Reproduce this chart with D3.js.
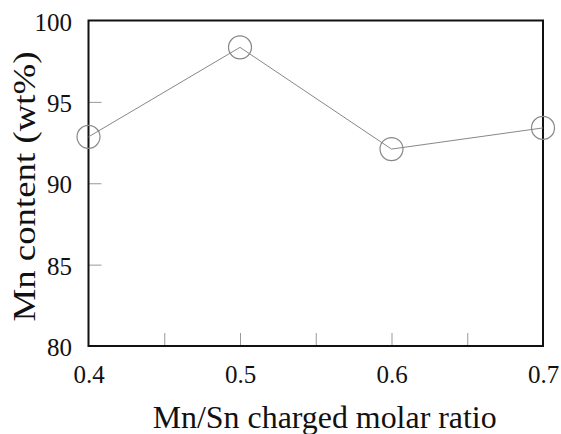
<!DOCTYPE html>
<html>
<head>
<meta charset="utf-8">
<script src="https://cdn.jsdelivr.net/npm/d3@7"></script>
<style>
  body { margin: 0; background: #fff; }
  svg text { font-family: "Liberation Serif", "Times New Roman", serif; fill: #111; }
</style>
</head>
<body>
<div id="chart"></div>
<script>
// データ
const ratios = [0.4, 0.5, 0.6, 0.7];
const mnContent = [92.85, 98.35, 92.1, 93.4];
const xTicks = [0.4, 0.5, 0.6, 0.7];
const xMinorTicks = [0.45, 0.5, 0.55, 0.6, 0.65];
const yTicks = [80, 85, 90, 95, 100];

const W = 561, H = 434;
const margin = { top: 20.5, right: 18, bottom: 88, left: 88.5 };
const width = W - margin.left - margin.right;
const height = H - margin.top - margin.bottom;

const svg = d3.select('#chart').append('svg')
    .attr('width', W)
    .attr('height', H);

const g = svg.append('g')
    .attr('transform', `translate(${margin.left},${margin.top})`);

const x = d3.scaleLinear().domain([0.4, 0.7]).range([0, width]);
const y = d3.scaleLinear().domain([80, 100]).range([height, 0]);

// 内向きの目盛り
g.append('g')
    .attr('transform', `translate(0,${height})`)
    .call(d3.axisTop(x).tickValues(xMinorTicks).tickSize(13).tickFormat(''))
    .call(a => a.select('.domain').remove())
    .call(a => a.selectAll('line').attr('stroke', '#999'));

g.append('g')
    .call(d3.axisRight(y).tickValues([85, 90, 95]).tickSize(13).tickFormat(''))
    .call(a => a.select('.domain').remove())
    .call(a => a.selectAll('line').attr('stroke', '#999'));

// 目盛りラベル
g.append('g')
    .attr('transform', `translate(0,${height})`)
    .call(d3.axisBottom(x).tickValues(xTicks).tickSize(0).tickPadding(19).tickFormat(d3.format('.1f')))
    .call(a => a.select('.domain').remove())
    .call(a => a.selectAll('text').style('font-size', '25px').attr('fill', '#111'));

g.append('g')
    .call(d3.axisLeft(y).tickValues(yTicks).tickSize(0).tickPadding(16.5).tickFormat(d3.format('d')))
    .call(a => a.select('.domain').remove())
    .call(a => a.selectAll('text').style('font-size', '25px').attr('dy', '0.38em').attr('fill', '#111'));

// 枠
g.append('rect')
    .attr('x', 0).attr('y', 0)
    .attr('width', width).attr('height', height)
    .attr('fill', 'none')
    .attr('stroke', '#111')
    .attr('stroke-width', 2);

// ライン
const line = d3.line()
    .x((d, i) => x(ratios[i]))
    .y(d => y(d));

g.append('path')
    .datum(mnContent)
    .attr('d', line)
    .attr('fill', 'none')
    .attr('stroke', '#888')
    .attr('stroke-width', 1);

g.selectAll('circle.pt')
    .data(mnContent)
    .enter().append('circle')
    .attr('class', 'pt')
    .attr('cx', (d, i) => x(ratios[i]))
    .attr('cy', d => y(d))
    .attr('r', 11.5)
    .attr('fill', 'none')
    .attr('stroke', '#888')
    .attr('stroke-width', 1.2);

// 軸タイトル
svg.append('text')
    .attr('x', 324.7)
    .attr('y', 428)
    .attr('text-anchor', 'middle')
    .attr('textLength', 344)
    .attr('lengthAdjust', 'spacingAndGlyphs')
    .style('font-size', '31px')
    .text('Mn/Sn charged molar ratio');

svg.append('text')
    .attr('transform', 'translate(35,186.5) rotate(-90)')
    .attr('text-anchor', 'middle')
    .attr('textLength', 270)
    .attr('lengthAdjust', 'spacingAndGlyphs')
    .style('font-size', '32px')
    .text('Mn content (wt%)');
</script>
</body>
</html>
